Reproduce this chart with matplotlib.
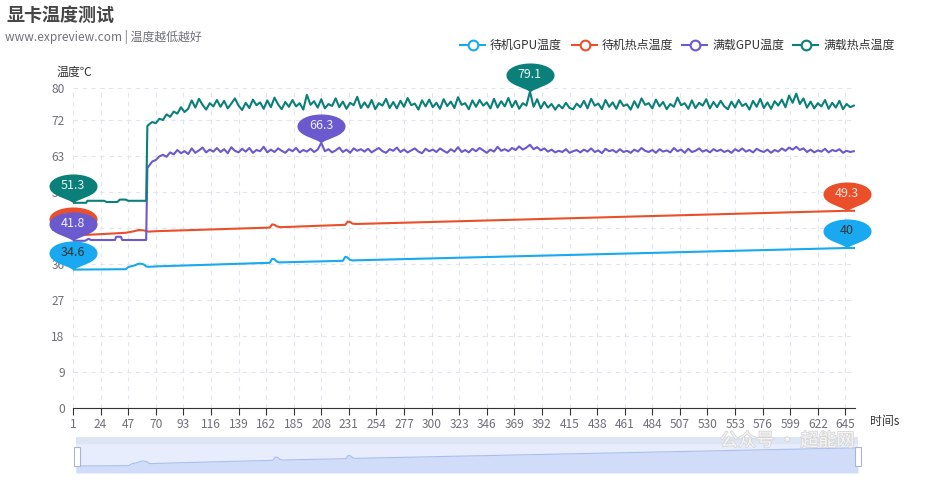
import numpy as np
import matplotlib.pyplot as plt
from matplotlib.path import Path
from matplotlib.lines import Line2D
from matplotlib.patches import Rectangle
import matplotlib.patheffects as pe

plt.rcParams['font.family'] = ['Noto Sans CJK SC', 'DejaVu Sans']

W, H = 930, 480

# ---- données ----
noms = ['待机GPU温度', '待机热点温度', '满载GPU温度', '满载热点温度']
couleurs = ['#18a9f0', '#ea4f2a', '#6a5acd', '#0b7f79']
textes_pin = ['#333333', '#fbe3dc', '#f0eefa', '#e8f4f3']

n_points = 653
x_ticks = list(range(1, 653, 23))
y_ticks = [0, 9, 18, 27, 36, 45, 54, 63, 72, 80]

# 待机GPU温度 (points clés)
t_bleu = [1, 45, 47, 49, 52, 55, 57, 60, 62, 64, 70, 165, 167, 169, 171, 173,
          226, 228, 230, 232, 234, 646, 653]
v_bleu = [34.6, 34.7, 35.2, 35.4, 35.6, 36.0, 36.1, 35.9, 35.4, 35.3, 35.4, 36.3,
          37.3, 37.2, 36.6, 36.4, 36.8, 37.8, 37.6, 37.0, 36.9, 40.0, 40.0]

# 待机热点温度
t_rouge = [1, 20, 45, 52, 56, 60, 64, 70, 165, 167, 169, 171, 174, 228, 230, 232,
           234, 237, 646, 653]
v_rouge = [43.1, 43.4, 43.8, 44.2, 44.5, 44.4, 44.1, 44.2, 45.1, 45.9, 45.8, 45.4,
           45.2, 45.8, 46.6, 46.5, 46.1, 46.0, 49.3, 49.3]

# 满载GPU温度 : début puis plateau (un point toutes les 3 s à partir de 64 s)
t_violet_debut = [1, 11, 14, 16, 36, 37, 41, 42, 62, 63]
v_violet_debut = [41.8, 41.8, 42.3, 42.0, 42.0, 42.8, 42.8, 42.0, 42.0, 60.0]
v_violet_plateau = [
    60.4, 61.6, 62.0, 62.9, 63.3, 62.8, 63.9, 63.4, 64.5, 63.7, 64.2, 63.5, 64.9, 63.8, 64.4, 65.1, 63.9, 64.6, 64.1, 65.0,
    64.0, 64.7, 63.7, 65.2, 64.3, 63.9, 64.8, 64.1, 65.0, 63.8, 64.5, 64.2, 65.3, 63.9, 64.6, 64.0, 64.9, 64.3, 63.8, 64.7,
    64.2, 65.0, 63.9, 64.5, 64.1, 64.8, 64.0, 64.6, 66.3, 64.2, 64.7, 63.9, 64.4, 65.1, 64.0, 64.6, 63.8, 64.9, 64.3, 64.7,
    64.1, 64.8, 63.9, 64.5, 65.0, 64.2, 63.8, 64.7, 64.3, 65.1, 64.0, 64.6, 63.9, 64.4, 64.9, 64.1, 63.7, 64.8, 64.2, 64.6,
    64.0, 64.9, 64.3, 63.8, 64.7, 64.1, 65.2, 64.0, 64.5, 63.9, 64.8, 64.2, 65.0, 64.4, 63.8, 64.6, 64.1, 65.3, 64.3, 64.7,
    64.2, 65.0, 64.5, 65.4, 64.6, 65.1, 65.8, 64.7, 65.2, 64.4, 64.9, 64.1, 64.6, 63.9, 64.3, 64.0, 64.7, 63.8, 64.2, 64.5,
    63.9, 64.6, 64.1, 64.9, 64.0, 64.4, 63.7, 64.8, 64.2, 64.5, 63.9, 64.7, 64.0, 64.3, 63.8, 64.6, 64.1, 65.0, 64.3, 64.0,
    64.5, 63.8, 64.7, 64.1, 64.4, 63.9, 65.0, 64.2, 64.6, 63.8, 64.8, 64.0, 64.3, 64.9, 64.1, 64.5, 63.9, 64.7, 64.2, 64.6,
    64.0, 64.4, 63.8, 64.7, 64.2, 64.9, 64.1, 64.5, 63.9, 64.8, 64.3, 64.0, 64.6, 63.8, 64.5, 64.1, 64.9, 64.3, 65.1, 64.6,
    65.3, 64.5, 64.9, 64.0, 64.6, 63.9, 64.4, 64.1, 64.8, 63.9, 64.5, 64.2, 64.7, 63.8, 64.3, 64.0, 64.2]

# 满载热点温度
t_vert_debut = [1, 12, 13, 27, 29, 38, 40, 45, 47, 62, 63]
v_vert_debut = [51.3, 51.3, 51.8, 51.8, 51.5, 51.5, 52.1, 52.1, 51.8, 51.8, 70.5]
v_vert_plateau = [
    70.8, 71.5, 71.2, 72.3, 72.0, 73.4, 72.8, 74.1, 73.6, 75.2, 74.0, 74.8, 76.9, 75.1, 77.3, 75.8, 74.6, 76.2, 75.4, 77.0,
    75.3, 76.8, 74.9, 76.1, 77.4, 75.6, 74.5, 76.3, 75.0, 77.1, 75.7, 76.4, 74.8, 76.9, 75.2, 77.6, 75.9, 74.7, 76.5, 75.3,
    77.0, 75.4, 76.2, 74.6, 78.3, 75.8, 76.7, 75.1, 77.2, 74.9, 76.0, 75.5, 77.4, 75.2, 76.6, 74.8, 76.3, 75.7, 77.8, 75.0,
    76.4, 75.1, 77.0, 74.7, 76.2, 75.6, 77.3, 75.0, 76.5, 74.9, 76.8, 75.3, 77.5, 75.7, 76.1, 74.6, 76.9, 75.4, 77.1, 75.2,
    76.3, 74.8, 77.2, 75.5, 76.6, 75.0, 77.7, 75.8, 76.2, 74.7, 76.9, 75.3, 77.0, 75.6, 76.4, 74.9, 77.3, 75.1, 76.7, 75.4,
    77.5, 75.2, 76.8, 74.8, 76.2, 75.6, 79.1, 75.3, 77.2, 74.9, 76.5, 75.1, 76.0, 74.6, 75.8, 74.9, 76.3, 75.0, 74.7, 76.1,
    75.2, 76.8, 74.9, 77.3, 75.6, 76.1, 74.7, 77.0, 75.3, 76.4, 74.8, 76.9, 75.5, 75.9, 74.6, 76.7, 75.1, 77.4, 75.8, 76.2,
    74.9, 77.1, 75.4, 76.5, 74.7, 76.0, 75.3, 77.6, 75.7, 76.2, 74.8, 76.9, 75.0, 76.3, 75.6, 77.2, 74.9, 76.5, 75.2, 76.8,
    75.4, 74.7, 76.6, 75.1, 77.0, 75.5, 76.1, 74.6, 76.8, 75.3, 77.3, 75.0, 76.4, 74.8, 76.7, 75.6, 77.1, 75.2, 78.1, 76.3,
    78.6, 76.0, 77.4, 75.1, 76.6, 74.9, 76.2, 75.4, 77.0, 74.8, 76.3, 75.1, 76.8, 74.7, 76.0, 75.2, 75.6]

t_plateau = list(range(64, 653, 3))

series_t = [t_bleu, t_rouge, t_violet_debut + t_plateau, t_vert_debut + t_plateau]
series_v = [v_bleu, v_rouge, v_violet_debut + v_violet_plateau, v_vert_debut + v_vert_plateau]

# ---- figure ----
fig = plt.figure(figsize=(W / 100, H / 100), dpi=100)
ax = fig.add_axes([73 / W, 1 - 408 / H, (855 - 73) / W, (408 - 88) / H])

ax.set_xlim(1, n_points)
ax.set_ylim(0, 80)
ax.set_xticks(x_ticks)
ax.set_yticks(y_ticks)
ax.grid(True, color='#e0e6f1', lw=0.8, ls=(0, (4, 4)))
ax.axvline(n_points, color='#e0e6f1', lw=0.8, ls=(0, (4, 4)))
for s in ['top', 'right', 'left']:
    ax.spines[s].set_visible(False)
ax.spines['bottom'].set_color('#333333')
ax.tick_params(axis='x', length=5, color='#333333', labelsize=8.6, labelcolor='#6e7079', pad=2)
ax.tick_params(axis='y', length=0, labelsize=8.6, labelcolor='#6e7079', pad=6)

# forme "pin" (pointe à l'origine)
pin_verts = [(0, 0), (-4, 5), (-24, 7), (-24, 17), (-24, 24), (-13, 29), (0, 29),
             (13, 29), (24, 24), (24, 17), (24, 7), (4, 5), (0, 0), (0, 0)]
pin_codes = [Path.MOVETO] + [Path.CURVE4] * 12 + [Path.CLOSEPOLY]
pin = Path(pin_verts, pin_codes)

for i in range(4):
    t = np.array(series_t[i])
    v = np.array(series_v[i])
    ax.plot(t, v, color=couleurs[i], lw=1.5, zorder=3 + i)
    for k in [int(np.argmin(v)), int(np.argmax(v))]:
        ax.plot([t[k]], [v[k]], marker=pin, ms=41.8, color=couleurs[i], mew=0,
                clip_on=False, zorder=10 + 2 * i)
        ax.annotate(f'{v[k]:g}', (t[k], v[k]), xytext=(0, 12.5), textcoords='offset points',
                    ha='center', va='center', fontsize=9, color=textes_pin[i],
                    zorder=11 + 2 * i, annotation_clip=False)

# textes
fig.text(6 / W, 1 - 15 / H, '显卡温度测试', fontsize=13, fontweight='bold', color='#464646',
         ha='left', va='center')
fig.text(5 / W, 1 - 37 / H, 'www.expreview.com | 温度越低越好', fontsize=8.6, color='#6e7079',
         ha='left', va='center')
fig.text(74 / W, 1 - 72.5 / H, '温度℃', fontsize=8.6, color='#333333', ha='center', va='center')
fig.text(870 / W, 1 - 421 / H, '时间s', fontsize=8.6, color='#333333', ha='left', va='center')

# légende
legende_x = [472.5, 584.5, 694.5, 805.5]
for i in range(4):
    cx = legende_x[i]
    fig.add_artist(Line2D([(cx - 12.5) / W, (cx + 12.5) / W], [1 - 45 / H] * 2, color=couleurs[i], lw=1.5))
    fig.add_artist(Line2D([cx / W], [1 - 45 / H], marker='o', ms=7, mfc='white', mec=couleurs[i], mew=1.5))
    fig.text((cx + 17.5) / W, 1 - 45 / H, noms[i], fontsize=8.6, color='#333333', ha='left', va='center')

# dataZoom
ax2 = fig.add_axes([76 / W, 1 - 473 / H, (858 - 76) / W, (473 - 437) / H])
ax2.set_xlim(1, n_points)
ax2.set_ylim(32.5, 43.3)
ax2.axis('off')
ax2.add_patch(Rectangle((0, 0), 1, 1, transform=ax2.transAxes, color='#e7edfc', zorder=0))
ax2.add_patch(Rectangle((0, 30 / 36), 1, 6 / 36, transform=ax2.transAxes, color='#dde4f3', zorder=1))
ax2.fill_between(t_bleu, 32.5, v_bleu, color='#d1ddf8', lw=0, zorder=2)
ax2.plot(t_bleu, v_bleu, color='#a9bef0', lw=0.8, zorder=3)
for hx in [74, 855]:
    fig.add_artist(Rectangle((hx / W, 1 - 466 / H), 6 / W, 19 / H, facecolor='white',
                             edgecolor='#aab6cf', lw=0.8))

# filigrane
fig.text(720 / W, 1 - 441 / H, '公众号 · 超能网', fontsize=13, color='#f4f4f4', ha='left', va='center',
         path_effects=[pe.withStroke(linewidth=1.2, foreground='#d6d6d6')])

fig.savefig('out.png', dpi=100)
